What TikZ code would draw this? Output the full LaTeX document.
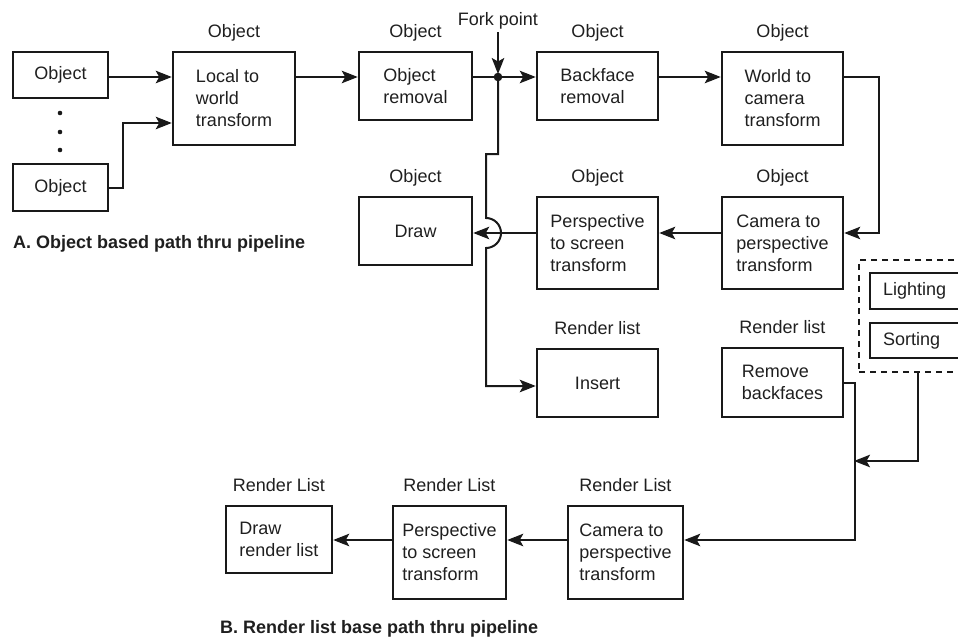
\documentclass[tikz,border=0pt]{standalone}
\usepackage{fontspec}
\setmainfont{Liberation Sans}
\usetikzlibrary{arrows.meta,calc}
\begin{document}
\begin{tikzpicture}[x=1pt,y=-1pt,
  every node/.style={font=\fontsize{18}{22}\selectfont, text=black!88},
  box/.style={draw=black!90, line width=2.5pt, inner sep=0pt, align=left},
  lbl/.style={inner sep=0pt, anchor=base},
  wire/.style={draw=black!90, line width=2pt},
  arr/.style={wire, -{Stealth[length=16pt,width=12.5pt,inset=3.5pt]}},
  grpbox/.style={draw=black!90, line width=2.2pt, dash pattern=on 6pt off 5pt, inner sep=0pt},
  caption/.style={inner sep=0pt, anchor=base west, font=\fontsize{18}{22}\selectfont\bfseries}]
\useasboundingbox (0,0) rectangle (958,637);
\clip (0,0) rectangle (958,637);

% row heights of the horizontal connectors
\coordinate (r1) at (0,77);
\coordinate (r4) at (0,540);

% ---- A: object based path ----
\node[box, minimum width=95pt, minimum height=46pt] (obj1) at (60.5,75) {Object};
\node[box, minimum width=95pt, minimum height=47pt] (obj2) at (60.5,187.5) {Object};
\foreach \yy in {113,132,150} \fill[black!90] (60,\yy) circle (2.3);

\node[box, minimum width=122pt, minimum height=93pt] (l2w) at (234,98.5) {Local to\\world\\transform};
\node[box, minimum width=113pt, minimum height=68pt] (orem) at (415.5,86) {Object\\removal};
\node[box, minimum width=121pt, minimum height=68pt] (bface) at (597.5,86) {Backface\\removal};
\node[box, minimum width=121pt, minimum height=93pt] (w2c) at (782.5,98.5) {World to\\camera\\transform};

\node[box, minimum width=113pt, minimum height=68pt] (draw) at (415.5,231) {Draw};
\node[box, minimum width=121pt, minimum height=92pt] (persp) at (597.5,243) {Perspective\\to screen\\transform};
\node[box, minimum width=121pt, minimum height=92pt] (cam) at (782.5,243) {Camera to\\perspective\\transform};

\node[box, minimum width=121pt, minimum height=68pt] (insert) at (597.5,383) {Insert};
\node[box, minimum width=121pt, minimum height=69pt] (rbf) at (782.5,382.5) {Remove\\backfaces};

% optional render list stages
\node[grpbox, minimum width=118pt, minimum height=112pt] (grp) at (918,316) {};
\node[box, minimum width=110pt, minimum height=36pt, text width=84pt] (light) at (925,291) {Lighting};
\node[box, minimum width=110pt, minimum height=35pt, text width=84pt] (sort) at (925,340.5) {Sorting};

% ---- B: render list path ----
\node[box, minimum width=106pt, minimum height=67pt] (drawrl) at (279,539.5) {Draw\\render list};
\node[box, minimum width=113pt, minimum height=93pt] (perspB) at (449.5,552.5) {Perspective\\to screen\\transform};
\node[box, minimum width=115pt, minimum height=93pt] (camB) at (625.5,552.5) {Camera to\\perspective\\transform};

% stage labels
\foreach \n in {l2w,orem,bface,w2c,draw,persp,cam}
  \node[lbl] at ([yshift=13pt]\n.north) {Object};
\foreach \n in {insert,rbf}
  \node[lbl] at ([yshift=13pt]\n.north) {Render list};
\foreach \n in {drawrl,perspB,camB}
  \node[lbl] at ([yshift=13pt]\n.north) {Render List};

\node[caption] (capA) at (13,248) {A. Object based path thru pipeline};
\node[caption] (capB) at (220,633) {B. Render list base path thru pipeline};

% fork point
\coordinate (fork) at (498,77);
\node[lbl] (forklbl) at (498,25) {Fork point};
\fill[black!90] (fork) circle (4.3);
\draw[arr, shorten >=3pt] (498,32) -- (fork);

% object path connectors
\draw[arr] (obj1.east |- r1) -- (l2w.west |- r1);
\draw[arr] (obj2.east) -- ++(14,0) |- (l2w.west |- 0,123);
\draw[arr] (l2w.east |- r1) -- (orem.west |- r1);
\draw[arr] (orem.east |- r1) -- (bface.west |- r1);
\draw[arr] (bface.east |- r1) -- (w2c.west |- r1);
\draw[arr] (w2c.east |- r1) -- ++(35,0) |- (cam.east |- 0,233);
\draw[arr] (cam.west |- 0,233) -- (persp.east |- 0,233);
\draw[arr] (persp.west |- 0,233) -- (draw.east |- 0,233);

% branch from the fork down to the render list, hopping over the draw arrow
\draw[arr] (fork) -- (498,154) -- (486,154) -- (486,218)
  arc[start angle=-90, end angle=90, radius=15] -- (486,386) -- (insert.west |- 0,386);

% render list connectors
\coordinate (merge) at (854,461);
\draw[arr] (rbf.east) -- ++(11,0) |- (camB.east |- r4);
\draw[arr] (grp.south) |- (merge);
\draw[arr] (camB.west |- r4) -- (perspB.east |- r4);
\draw[arr] (perspB.west |- r4) -- (drawrl.east |- r4);
\end{tikzpicture}
\end{document}
